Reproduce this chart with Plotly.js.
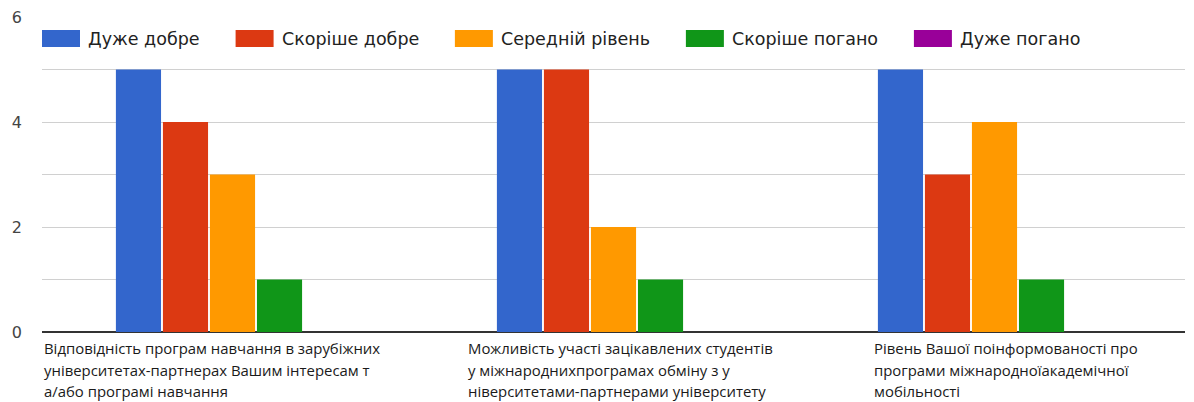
<!DOCTYPE html>
<html>
<head>
<meta charset="utf-8">
<script src="https://cdn.plot.ly/plotly-3.0.1.min.js"></script>
<style>
html,body{margin:0;padding:0;background:#fff;}
#chart{width:1194px;height:402px;}
</style>
</head>
<body>
<div id="chart"></div>
<script>
// ---- data ----
const categories = [
  "Відповідність програм навчання в зарубіжних університетах-партнерах Вашим інтересам та/або програмі навчання",
  "Можливість участі зацікавлених студентів у міжнароднихпрограмах обміну з університетами-партнерами університету",
  "Рівень Вашої поінформованості про програми міжнародноїакадемічної мобільності"
];
const categoryLabelLines = [
  ["Відповідність програм навчання в зарубіжних", "університетах-партнерах Вашим інтересам т", "а/або програмі навчання"],
  ["Можливість участі зацікавлених студентів", "у міжнароднихпрограмах обміну з у", "ніверситетами-партнерами університету"],
  ["Рівень Вашої поінформованості про", "програми міжнародноїакадемічної", "мобільності"]
];
const seriesNames = ["Дуже добре", "Скоріше добре", "Середній рівень", "Скоріше погано", "Дуже погано"];
const veryGood   = [5, 5, 5];
const ratherGood = [4, 5, 3];
const average    = [3, 2, 4];
const ratherBad  = [1, 1, 1];
const veryBad    = [0, 0, 0];
const yTickVals  = [0, 2, 4, 6];

// ---- styling / layout ----
const seriesValues = [veryGood, ratherGood, average, ratherBad, veryBad];
const colors = ["#3366cc", "#dc3912", "#ff9900", "#109618", "#990099"];
const W = 1194, H = 402;
const M = {l: 42, r: 9, t: 17, b: 70};
const plotW = W - M.l - M.r, plotH = H - M.t - M.b;
const px2x = p => (p - M.l) / plotW;
const px2y = p => (H - M.b - p) / plotH;

const traces = seriesNames.map((name, i) => ({
  type: "bar",
  name: name,
  x: categories,
  y: seriesValues[i],
  marker: {color: colors[i], line: {width: 0}},
  hoverinfo: "x+y+name",
  showlegend: false
}));

// custom legend (swatch + text) laid out from measured text widths
const legendSize = 17.5;
const legendFamily = "DejaVu Sans";
const ctx = document.createElement("canvas").getContext("2d");
ctx.font = legendSize + 'px "' + legendFamily + '"';
const shapes = [];
const annotations = [];
let lx = 42;
const swW = 38, swTop = 30, swBot = 47, swGap = 8, itemGap = 36;
seriesNames.forEach((name, i) => {
  shapes.push({type: "rect", xref: "paper", yref: "paper",
    x0: px2x(lx), x1: px2x(lx + swW), y0: px2y(swBot), y1: px2y(swTop),
    fillcolor: colors[i], line: {width: 0}, layer: "above"});
  annotations.push({xref: "paper", yref: "paper", x: px2x(lx + swW + swGap - 2), y: px2y(39),
    xanchor: "left", yanchor: "middle", showarrow: false, text: name,
    font: {family: legendFamily + ", sans-serif", size: legendSize, color: "#222"}});
  lx += swW + swGap + ctx.measureText(name).width + itemGap;
});

// category labels (left-aligned blocks, one annotation per line)
const labelLeft = [45, 469, 875];
const lineY = [348, 369.5, 390.5];
categoryLabelLines.forEach((lines, c) => {
  lines.forEach((ln, k) => {
    annotations.push({xref: "paper", yref: "paper", x: px2x(labelLeft[c] - 2), y: px2y(lineY[k]),
      xanchor: "left", yanchor: "middle", showarrow: false, text: ln, borderpad: 0,
      font: {family: "Open Sans, Noto Sans, sans-serif", size: 14.9, color: "#1a1a1a"}});
  });
});

const layout = {
  width: W, height: H,
  margin: M,
  paper_bgcolor: "#fff", plot_bgcolor: "#fff",
  barmode: "group", bargap: 0.383, bargroupgap: 0.04,
  font: {family: "Liberation Sans, Arial, sans-serif", color: "#444"},
  xaxis: {showticklabels: false, showgrid: false, zeroline: false, showline: false, ticks: ""},
  yaxis: {range: [0, 6.001], tickvals: yTickVals, ticktext: yTickVals.map(String),
    showgrid: true, gridcolor: "#d0d0d0", gridwidth: 1,
    minor: {dtick: 1, tick0: 0, showgrid: true, gridcolor: "#d0d0d0", gridwidth: 1, ticks: ""},
    zeroline: true, zerolinecolor: "#333", zerolinewidth: 2,
    ticks: "", ticklabelstandoff: 19, showline: false,
    tickfont: {size: 16, color: "#444", family: "DejaVu Sans, sans-serif"}},
  shapes: shapes,
  annotations: annotations,
  showlegend: false
};

Plotly.newPlot("chart", traces, layout, {displayModeBar: false, staticPlot: false});
</script>
</body>
</html>
